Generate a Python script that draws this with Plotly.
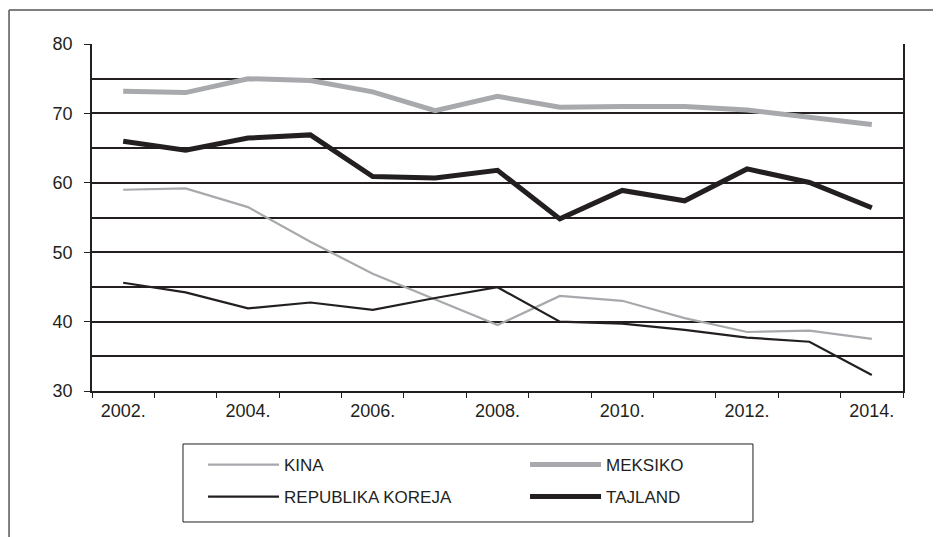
import plotly.graph_objects as go

years = ["2002.", "2003.", "2004.", "2005.", "2006.", "2007.", "2008.",
         "2009.", "2010.", "2011.", "2012.", "2013.", "2014."]
tick_labels = ["2002.", "", "2004.", "", "2006.", "", "2008.", "", "2010.", "", "2012.", "", "2014."]

kina = [59.0, 59.2, 56.5, 51.5, 46.9, 43.2, 39.5, 43.7, 43.0, 40.5, 38.5, 38.7, 37.5]
meksiko = [73.2, 73.0, 75.0, 74.75, 73.1, 70.4, 72.45, 70.9, 71.0, 71.0, 70.5, 69.5, 68.4]
koreja = [45.6, 44.2, 41.9, 42.75, 41.7, 43.4, 44.95, 40.0, 39.7, 38.8, 37.7, 37.1, 32.3]
tajland = [66.0, 64.7, 66.45, 66.9, 60.9, 60.7, 61.8, 54.8, 58.9, 57.4, 62.0, 60.05, 56.4]

y_ticks = [30, 40, 50, 60, 70, 80]

FONT = "Arial, 'Liberation Sans', sans-serif"
INK = "#231f20"
GREY = "#a7a9ac"

fig = go.Figure()
fig.add_trace(go.Scatter(x=years, y=kina, name="KINA", mode="lines", legend="legend",
                         line=dict(color=GREY, width=2.2)))
fig.add_trace(go.Scatter(x=years, y=meksiko, name="MEKSIKO", mode="lines", legend="legend",
                         line=dict(color=GREY, width=5)))
fig.add_trace(go.Scatter(x=years, y=koreja, name="REPUBLIKA KOREJA", mode="lines", legend="legend2",
                         line=dict(color=INK, width=2.2)))
fig.add_trace(go.Scatter(x=years, y=tajland, name="TAJLAND", mode="lines", legend="legend2",
                         line=dict(color=INK, width=5)))

leg_common = dict(
    orientation="h", xanchor="left", yanchor="top", xref="paper", yref="paper",
    borderwidth=0, bgcolor="rgba(0,0,0,0)",
    entrywidth=236, itemwidth=71, traceorder="normal",
    font=dict(family=FONT, size=17, color=INK),
)

fig.update_layout(
    width=941, height=537,
    margin=dict(l=84, r=46, t=36, b=154),
    paper_bgcolor="white", plot_bgcolor="white",
    font=dict(family=FONT, size=17, color=INK),
    showlegend=True,
    legend=dict(x=0.1369, y=-0.1614, **leg_common),
    legend2=dict(x=0.1369, y=-0.2536, **leg_common),
    xaxis=dict(
        type="category", tickson="boundaries", range=[-0.5, 12.5],
        tickvals=years, ticktext=tick_labels,
        ticks="outside", ticklen=5, tickcolor=INK, tickwidth=1,
        ticklabelstandoff=3,
        showline=True, linecolor=INK, linewidth=1.5, mirror=False,
        showgrid=False, zeroline=False,
        tickfont=dict(family=FONT, size=18, color=INK),
    ),
    yaxis=dict(
        range=[30, 80], tickvals=y_ticks,
        ticks="outside", ticklen=6, tickcolor=INK, tickwidth=1,
        ticklabelstandoff=8,
        showline=True, linecolor=INK, linewidth=1.5, mirror=True,
        showgrid=True, gridcolor=INK, gridwidth=2,
        minor=dict(dtick=5, showgrid=True, gridcolor=INK, gridwidth=1.5, ticks=""),
        zeroline=False,
        tickfont=dict(family=FONT, size=18, color=INK),
    ),
    shapes=[
        dict(type="line", xref="paper", yref="paper", x0=-0.1023, x1=1.07, y0=1.098, y1=1.098,
             line=dict(color="#555555", width=1.5)),
        dict(type="line", xref="paper", yref="paper", x0=-0.1023, x1=-0.1023, y0=1.098, y1=-0.45,
             line=dict(color="#555555", width=1.5)),
        dict(type="rect", xref="paper", yref="paper", x0=0.1122, x1=0.815, y0=-0.1527, y1=-0.3775,
             line=dict(color=INK, width=1)),
    ],
)

fig.write_html("out.html")
